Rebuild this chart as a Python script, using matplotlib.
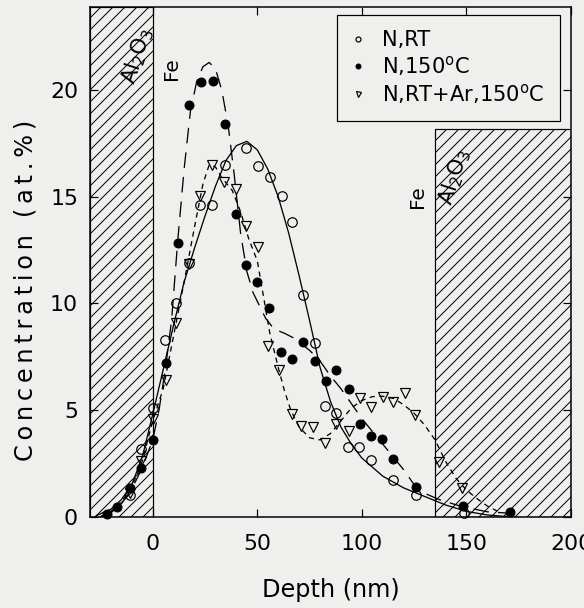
import matplotlib
matplotlib.use("Agg")
import matplotlib.pyplot as plt
from matplotlib.patches import Rectangle
from matplotlib.lines import Line2D

plt.rcParams["font.family"] = ["DejaVu Sans"]
plt.rcParams["mathtext.default"] = "regular"
plt.rcParams["hatch.linewidth"] = 1.0

# ---- measured profiles -------------------------------------------------
rt_depth = [-11, -5.4, 0.2, 5.7, 11.3, 17.2, 22.5, 28.1, 34.4, 44.8, 50.4, 56.3,
            61.6, 66.8, 71.9, 77.5, 82.3, 87.8, 93.6, 98.4, 104.2, 115.1, 125.8, 148.6]
rt_conc = [1.0, 3.16, 5.08, 8.28, 10.0, 11.9, 14.6, 14.6, 16.5, 17.3, 16.45, 15.94,
           15.05, 13.8, 10.4, 8.13, 5.2, 4.85, 3.28, 3.28, 2.66, 1.72, 1.0, 0.16]

hot_depth = [-22.0, -16.9, -11.0, -5.4, 0.0, 6.5, 12.1, 17.4, 23.3, 28.9, 34.4, 39.7,
             44.8, 49.9, 55.6, 61.2, 66.7, 71.9, 77.5, 82.8, 87.8, 93.8, 99.0, 104.2,
             109.4, 115.0, 125.8, 148.5, 170.8]
hot_conc = [0.13, 0.45, 1.35, 2.28, 3.6, 7.2, 12.85, 19.3, 20.4, 20.45, 18.4, 14.2,
            11.8, 11.0, 9.77, 7.7, 7.4, 8.2, 7.3, 6.36, 6.9, 5.97, 4.33, 3.78,
            3.63, 2.7, 1.4, 0.5, 0.2]

ar_depth = [-11, -5.5, 0.2, 6.5, 11.3, 17.4, 22.5, 28.1, 34.0, 39.7, 44.8, 50.4,
            55.2, 60.4, 66.4, 71.1, 76.7, 82.3, 87.5, 93.8, 99.0, 104.5, 109.9,
            115.0, 120.6, 125.4, 137.0, 148.0]
ar_conc = [1.1, 2.6, 4.6, 6.4, 9.06, 11.85, 15.05, 16.5, 15.7, 15.35, 13.64, 12.66,
           8.0, 6.9, 4.8, 4.25, 4.2, 3.44, 4.35, 4.0, 5.55, 5.16, 5.63,
           5.39, 5.81, 4.77, 2.58, 1.33]

# ---- guide curves ------------------------------------------------------
rt_fit_depth = [-27, -20, -15, -10, -5, 0, 5, 10, 15, 20, 25, 30, 35, 40, 45, 50,
                55, 60, 65, 70, 75, 80, 85, 90, 95, 100, 110, 120, 130, 140, 150, 160, 170]
rt_fit_conc = [0.05, 0.35, 0.8, 1.5, 2.8, 4.8, 6.9, 9.0, 11.0, 12.6, 14.1, 15.5, 16.7,
               17.4, 17.6, 17.2, 16.3, 15.0, 13.3, 11.3, 9.2, 7.0, 5.4, 4.2, 3.4, 2.75,
               1.9, 1.35, 0.95, 0.55, 0.25, 0.08, 0.0]

hot_fit_depth = [-25, -20, -15, -10, -5, 0, 3, 6, 9, 12, 15, 18, 21, 24, 27, 30, 33,
                 36, 39, 42, 45, 48, 51, 54, 58, 63, 68, 75, 80, 85, 90, 95, 100, 105,
                 110, 115, 120, 125, 130, 137, 148, 160, 171]
hot_fit_conc = [0.0, 0.2, 0.6, 1.3, 2.3, 3.6, 5.0, 6.9, 9.2, 13.0, 16.3, 19.0, 20.4,
                21.1, 21.3, 21.0, 20.0, 18.4, 16.0, 13.3, 11.5, 10.5, 9.9, 9.3, 8.8,
                8.6, 8.35, 7.8, 7.3, 6.6, 6.0, 5.3, 4.6, 4.0, 3.4, 2.8, 2.2, 1.5, 1.1,
                0.8, 0.47, 0.23, 0.16]

ar_fit_depth = [-25, -20, -15, -10, -5, 0, 5, 10, 15, 20, 24, 27, 30, 33, 38, 42, 46,
                50, 53, 56, 60, 63, 66, 70, 75, 80, 85, 90, 95, 100, 105, 110, 115,
                120, 125, 130, 135, 140, 145, 150, 155, 160, 165]
ar_fit_conc = [0.0, 0.25, 0.7, 1.4, 2.6, 4.5, 6.0, 8.5, 11.0, 13.6, 15.6, 16.5, 16.4,
               15.9, 15.3, 14.3, 13.0, 12.0, 10.3, 8.6, 7.0, 5.9, 5.0, 4.2, 3.7, 3.6,
               3.9, 4.5, 5.1, 5.45, 5.63, 5.65, 5.55, 5.25, 4.85, 4.3, 3.6, 2.6, 1.8,
               1.25, 0.85, 0.5, 0.25]

series_labels = ["N,RT", r"N,150$^{o}$C", r"N,RT+Ar,150$^{o}$C"]
x_title = "Depth (nm)"
y_title = "Concentration (at.%)"

# oxide layers bounding the iron film (depth range, top of region)
left_oxide = (-30, 0, 23.9)
right_oxide = (135, 200, 18.2)

bg = "#efefed"
fs = 22


def tracked(s):
    """Open up the letter spacing of a label with thin spaces."""
    return "\u2009".join(s)


fig = plt.figure(figsize=(584 / 72, 608 / 72), dpi=72, facecolor=bg)
ax = fig.add_axes([90 / 584, 91.3 / 608, 481 / 584, 509.7 / 608], facecolor=bg)

for x0, x1, top in (left_oxide, right_oxide):
    ax.add_patch(Rectangle((x0, 0), x1 - x0, top, facecolor="none",
                           edgecolor="black", hatch="//", linewidth=1.2, zorder=1))

ax.plot(rt_fit_depth, rt_fit_conc, color="black", lw=1.3, zorder=2)
ax.plot(hot_fit_depth, hot_fit_conc, color="black", lw=1.3, dashes=(12, 7), zorder=2)
ax.plot(ar_fit_depth, ar_fit_conc, color="black", lw=1.3, dashes=(4, 3.5), zorder=2)

ax.plot(rt_depth, rt_conc, ls="none", marker="o", ms=9.5, mfc="none", mec="black",
        mew=1.2, clip_on=False, zorder=3)
ax.plot(hot_depth, hot_conc, ls="none", marker="o", ms=9, mfc="black", mec="black",
        clip_on=False, zorder=3)
ax.plot(ar_depth, ar_conc, ls="none", marker="v", ms=9.5, mfc="none", mec="black",
        mew=1.2, clip_on=False, zorder=3)

ax.set_xlim(-30, 200)
ax.set_ylim(0, 23.9)
ax.set_xticks([0, 50, 100, 150, 200])
ax.set_yticks([0, 5, 10, 15, 20])
ax.tick_params(direction="in", length=8, width=1.2, top=True, right=True,
               labelsize=fs)
ax.tick_params(axis="x", pad=17)
ax.tick_params(axis="y", pad=12)
for s in ax.spines.values():
    s.set_linewidth(1.5)

ax.set_xlabel(x_title, fontsize=24, va="center")
ax.xaxis.set_label_coords(0.5, -0.143)
ax.set_ylabel(tracked(y_title), fontsize=24, va="center")
ax.yaxis.set_label_coords(-0.135, 0.445)

ax.text(-7.2, 21.6, r"Al$_2$O$_3$", rotation=72, fontsize=21,
        ha="center", va="center")
ax.text(9.1, 21.0, "Fe", rotation=90, fontsize=20, ha="center", va="center")
ax.text(126.8, 15.0, "Fe", rotation=90, fontsize=20, ha="center", va="center")
ax.text(144.5, 15.9, r"Al$_2$O$_3$", rotation=72, fontsize=21,
        ha="center", va="center")

handles = [
    Line2D([], [], ls="none", marker="o", ms=5, mfc="none", mec="black", mew=1.2),
    Line2D([], [], ls="none", marker="o", ms=5, mfc="black", mec="black"),
    Line2D([], [], ls="none", marker="v", ms=5, mfc="none", mec="black", mew=1.2),
]
leg = ax.legend(handles, series_labels, loc="upper right",
                bbox_to_anchor=(0.977, 0.984), borderaxespad=0, fontsize=21,
                frameon=True, fancybox=False, framealpha=1, edgecolor="black",
                facecolor=bg, handlelength=0.6, handletextpad=0.85,
                labelspacing=0.18, borderpad=0.72)
leg.get_frame().set_linewidth(1.2)

fig.savefig("out.png", dpi=72, facecolor=bg)
